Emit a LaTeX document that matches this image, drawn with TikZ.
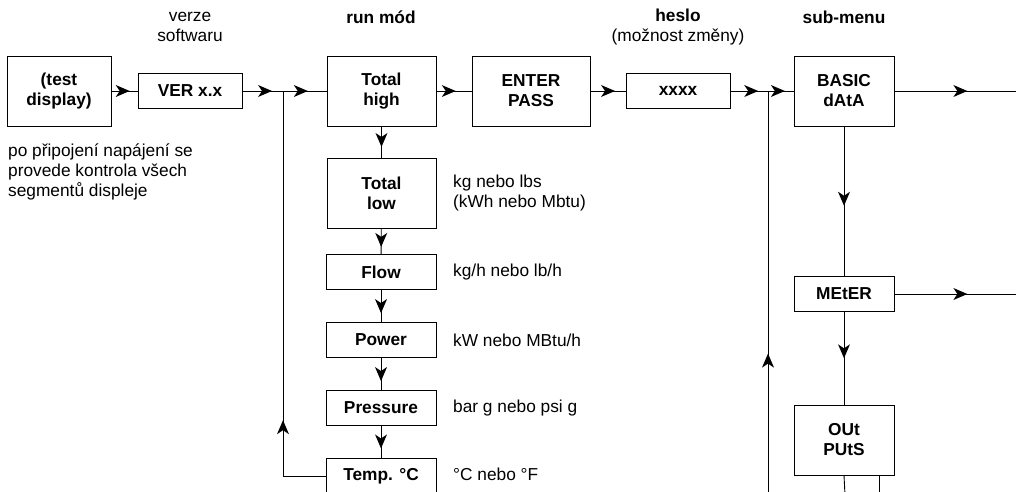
\documentclass[tikz,border=0pt]{standalone}
\usepackage{fontspec}
\setmainfont{Liberation Sans}
\usetikzlibrary{decorations.markings}
\newcommand{\basefont}{\fontsize{17.3}{20}\selectfont}
\tikzset{
  box/.style={draw, line width=0.9pt, align=center, inner sep=2pt,
    font=\basefont\bfseries, minimum width=104pt},
  tallbox/.style={box, minimum height=70pt},
  flatbox/.style={box, minimum height=35pt},
  note/.style={align=left, anchor=west, inner sep=0pt},
  title/.style={align=center, inner sep=0pt},
  link/.style={line width=0.9pt, postaction={decorate},
    decoration={markings, mark=at position #1 with
      {\fill (0pt,0pt) -- (-14pt,6pt) -- (-10pt,0pt) -- (-14pt,-6pt) -- cycle;}}},
  link/.default=0.6
}
\begin{document}
\begin{tikzpicture}[x=1pt, y=-1pt, every node/.append style={font=\basefont}]
  \useasboundingbox (0,0) rectangle (1016,491);
  % titles above the columns
  \node[title] (vertitle) at (190,27) {verze\\softwaru};
  \node[title, font=\basefont\bfseries] (runtitle) at (381,17) {run mód};
  \node[title] (pwtitle) at (678,27) {\textbf{heslo}\\(možnost změny)};
  \node[title, font=\basefont\bfseries] (subtitle) at (844,17) {sub-menu};
  % main row
  \node[tallbox] (test) at (59,91) {(test\\display)};
  \node[flatbox] (ver) at (190,91) {VER x.x};
  \node[tallbox, minimum width=109pt] (high) at (381.5,91) {Total\\high};
  \node[tallbox, minimum width=118pt] (enter) at (531,91) {ENTER\\PASS};
  \node[flatbox] (pass) at (678,91) {xxxx};
  \node[tallbox, minimum width=100pt] (basic) at (844,91) {BASIC\\dAtA};
  % sub-menu column
  \node[flatbox, minimum width=100pt] (meter) at (844,294) {MEtER};
  \node[tallbox, minimum width=100pt] (outputs) at (844,440) {OUt\\PUtS};
  % run column
  \node[tallbox, minimum width=109pt] (low) at (381.5,193) {Total\\low};
  \node[flatbox, minimum width=110pt] (flowbox) at (381,272) {Flow};
  \node[flatbox, minimum width=110pt] (power) at (381,340) {Power};
  \node[flatbox, minimum width=110pt] (pressure) at (381,408) {Pressure};
  \node[flatbox, minimum width=110pt] (temp) at (381,476) {Temp. °C};
  % notes
  \node[note] (testnote) at (8,172) {po připojení napájení se\\provede kontrola všech\\segmentů displeje};
  \node[note] (lownote) at (453,193) {kg nebo lbs\\(kWh nebo Mbtu)};
  \node[note] (flownote) at (453,272) {kg/h nebo lb/h};
  \node[note] (powernote) at (453,340) {kW nebo MBtu/h};
  \node[note] (pressnote) at (453,408) {bar g nebo psi g};
  \node[note] (tempnote) at (453,474) {°C nebo °F};
  % junctions and free ends
  \coordinate (j1) at (283,91);
  \coordinate (j2) at (768,91);
  \coordinate (j2low) at (768,495);
  \coordinate (basicout) at (1016,91);
  \coordinate (meterout) at (1016,294);
  \coordinate (outa) at (845,495);
  \coordinate (outb) at (879,495);
  % main row connectors
  \draw[link=0.7] (test) -- (ver);
  \draw[link=0.73] (ver) -- (j1);
  \draw[link=0.57] (j1) -- (high);
  \draw[link=0.55] (high) -- (enter);
  \draw[link=0.7] (enter) -- (pass);
  \draw[link=0.74] (pass) -- (j2);
  \draw[link=0.66] (j2) -- (basic);
  \draw[link=0.6] (basic) -- (basicout);
  % run column
  \draw[link=0.66] (high) -- (low);
  \draw[link=0.72] (low) -- (flowbox);
  \draw[link=0.72] (flowbox) -- (power);
  \draw[link=0.72] (power) -- (pressure);
  \draw[link=0.7] (pressure) -- (temp);
  \draw[link=0.23] (temp.west) -| (j1);
  % sub-menu column
  \draw[link=0.53] (basic) -- (meter);
  \draw[link=0.6] (meter) -- (meterout);
  \draw[link=0.5] (meter) -- (outputs);
  \draw[line width=0.9pt] (outputs.south) -- (outa);
  \draw[line width=0.9pt] (outputs.south -| outb) -- (outb);
  \draw[link=0.35] (j2low) -- (j2);
\end{tikzpicture}
\end{document}
